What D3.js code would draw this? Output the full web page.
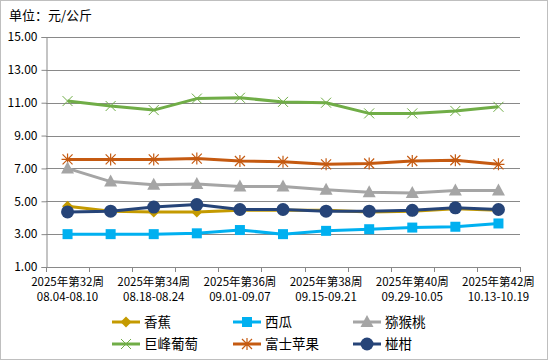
<!DOCTYPE html>
<html>
<head>
<meta charset="utf-8">
<script src="https://cdn.jsdelivr.net/npm/d3@7/dist/d3.min.js"></script>
<style>
  body { margin: 0; background: #fff; }
  text { font-family: "Noto Sans CJK SC", "DejaVu Sans", sans-serif; fill: #000; }
</style>
</head>
<body>
<div id="chart"></div>
<script>
var width = 550;
var height = 362;
var margin = { left: 46, right: 30, top: 37, bottom: 95 };

var weeks = ["2025年第32周", "2025年第33周", "2025年第34周", "2025年第35周", "2025年第36周", "2025年第37周",
    "2025年第38周", "2025年第39周", "2025年第40周", "2025年第41周", "2025年第42周"];
var dates = ["08.04-08.10", "08.11-08.17", "08.18-08.24", "08.25-08.31", "09.01-09.07", "09.08-09.14",
    "09.15-09.21", "09.22-09.28", "09.29-10.05", "10.06-10.12", "10.13-10.19"];
var yTicks = [1, 3, 5, 7, 9, 11, 13, 15];

var banana = [4.70, 4.40, 4.35, 4.35, 4.45, 4.45, 4.45, 4.35, 4.40, 4.55, 4.45];
var watermelon = [3.00, 3.00, 3.00, 3.05, 3.25, 3.00, 3.20, 3.30, 3.40, 3.45, 3.65];
var kiwi = [7.00, 6.20, 6.00, 6.05, 5.90, 5.90, 5.70, 5.55, 5.50, 5.65, 5.65];
var grape = [11.10, 10.80, 10.55, 11.25, 11.30, 11.05, 11.00, 10.35, 10.35, 10.50, 10.75];
var apple = [7.55, 7.55, 7.55, 7.60, 7.45, 7.40, 7.25, 7.30, 7.45, 7.50, 7.25];
var orange = [4.35, 4.40, 4.65, 4.80, 4.50, 4.50, 4.40, 4.40, 4.45, 4.60, 4.50];

var series = [
    { name: "香蕉", values: banana, color: "#C49A00", marker: "diamond" },
    { name: "西瓜", values: watermelon, color: "#00B0F0", marker: "square" },
    { name: "猕猴桃", values: kiwi, color: "#A5A5A5", marker: "triangle" },
    { name: "巨峰葡萄", values: grape, color: "#70AD47", marker: "cross" },
    { name: "富士苹果", values: apple, color: "#C55A11", marker: "star" },
    { name: "椪柑", values: orange, color: "#264478", marker: "circle" }
];
// drawing order: back to front
var drawOrder = [3, 4, 2, 1, 0, 5];

var svg = d3.select("#chart")
    .append("svg")
    .attr("width", width)
    .attr("height", height);

// outer frame
svg.append("rect")
    .attr("x", 0.5).attr("y", 0.5)
    .attr("width", width - 3).attr("height", height - 3)
    .attr("fill", "none")
    .attr("stroke", "#BFBFBF");

svg.append("text")
    .attr("x", 9)
    .attr("y", 20)
    .attr("font-size", "13px")
    .text("单位：元/公斤");

var x = d3.scaleBand()
    .domain(weeks)
    .range([margin.left, width - margin.right]);

var y = d3.scaleLinear()
    .domain([1, 15])
    .range([height - margin.bottom, margin.top]);

// gridlines
svg.append("g")
    .selectAll("line")
    .data(yTicks.slice(1))
    .enter()
    .append("line")
    .attr("x1", margin.left)
    .attr("x2", width - margin.right)
    .attr("y1", function (d) { return Math.round(y(d)) + 0.5; })
    .attr("y2", function (d) { return Math.round(y(d)) + 0.5; })
    .attr("stroke", "#898989")
    .attr("stroke-width", 1);

// y axis
var yAxis = svg.append("g")
    .attr("transform", "translate(" + (margin.left + 0.5) + ",0)")
    .call(d3.axisLeft(y).tickValues(yTicks).tickFormat(d3.format(".2f")).tickSizeOuter(0).tickSize(5));
yAxis.selectAll("text").attr("font-size", "12px").attr("dx", "-1");
yAxis.select(".domain").attr("stroke", "#898989");
yAxis.selectAll(".tick line").attr("stroke", "#898989");

// x axis
var boundaries = weeks.map(function (d) { return x(d); }).concat([width - margin.right]);
var xg = svg.append("g");
xg.append("line")
    .attr("x1", margin.left).attr("x2", width - margin.right)
    .attr("y1", Math.round(y(1)) + 0.5).attr("y2", Math.round(y(1)) + 0.5)
    .attr("stroke", "#898989");
xg.selectAll(".xtick")
    .data(boundaries)
    .enter()
    .append("line")
    .attr("x1", function (d) { return Math.round(d) + 0.5; })
    .attr("x2", function (d) { return Math.round(d) + 0.5; })
    .attr("y1", Math.round(y(1)))
    .attr("y2", Math.round(y(1)) + 5)
    .attr("stroke", "#898989");

var labelIdx = [0, 2, 4, 6, 8, 10];
xg.selectAll(".xl1")
    .data(labelIdx)
    .enter()
    .append("text")
    .attr("text-anchor", "middle")
    .attr("font-size", "11.5px")
    .attr("x", function (i) { return x(weeks[i]) + x.bandwidth() / 2; })
    .attr("y", 286)
    .text(function (i) { return weeks[i]; });
xg.selectAll(".xl2")
    .data(labelIdx)
    .enter()
    .append("text")
    .attr("text-anchor", "middle")
    .attr("font-size", "11.5px")
    .attr("x", function (i) { return x(weeks[i]) + x.bandwidth() / 2; })
    .attr("y", 301)
    .text(function (i) { return dates[i]; });

function drawMarker(g, type, color) {
    if (type == "diamond") {
        g.append("path").attr("d", "M0,-5.5L5.5,0L0,5.5L-5.5,0Z").attr("fill", color);
    } else if (type == "square") {
        g.append("rect").attr("x", -5).attr("y", -5).attr("width", 10).attr("height", 10).attr("fill", color);
    } else if (type == "triangle") {
        g.append("path").attr("d", "M0,-7L6.5,5L-6.5,5Z").attr("fill", color);
    } else if (type == "circle") {
        g.append("circle").attr("r", 6.5).attr("fill", color);
    } else if (type == "cross") {
        g.append("path").attr("d", "M-5,-5L5,5M-5,5L5,-5").attr("stroke", color).attr("stroke-width", 1).attr("fill", "none");
    } else if (type == "star") {
        g.append("path").attr("d", "M-5,-5L5,5M-5,5L5,-5M0,-6L0,6M-6,0L6,0").attr("stroke", color).attr("stroke-width", 1.2).attr("fill", "none");
    }
}

var line = d3.line()
    .x(function (d, i) { return x(weeks[i]) + x.bandwidth() / 2; })
    .y(function (d) { return y(d); });

drawOrder.forEach(function (k) {
    var s = series[k];
    var sg = svg.append("g");
    sg.append("path")
        .attr("d", line(s.values))
        .attr("fill", "none")
        .attr("stroke", s.color)
        .attr("stroke-width", 3)
        .attr("stroke-linejoin", "round");
    sg.selectAll(".m")
        .data(s.values)
        .enter()
        .append("g")
        .attr("transform", function (d, i) {
            return "translate(" + (x(weeks[i]) + x.bandwidth() / 2) + "," + y(d) + ")";
        })
        .each(function () { drawMarker(d3.select(this), s.marker, s.color); });
});

// legend
var legX = [112, 233, 353];
var legY = [322, 344];
var leg = svg.append("g")
    .selectAll("g")
    .data(series)
    .enter()
    .append("g")
    .attr("transform", function (d, i) {
        return "translate(" + legX[i % 3] + "," + legY[Math.floor(i / 3)] + ")";
    });
leg.append("line")
    .attr("x1", 0).attr("x2", 28)
    .attr("stroke", function (d) { return d.color; })
    .attr("stroke-width", 3);
leg.each(function (d) {
    var g = d3.select(this).append("g").attr("transform", "translate(14,0)");
    drawMarker(g, d.marker, d.color);
});
leg.append("text")
    .attr("x", 32)
    .attr("y", 5)
    .attr("font-size", "13.5px")
    .text(function (d) { return d.name; });
</script>
</body>
</html>
